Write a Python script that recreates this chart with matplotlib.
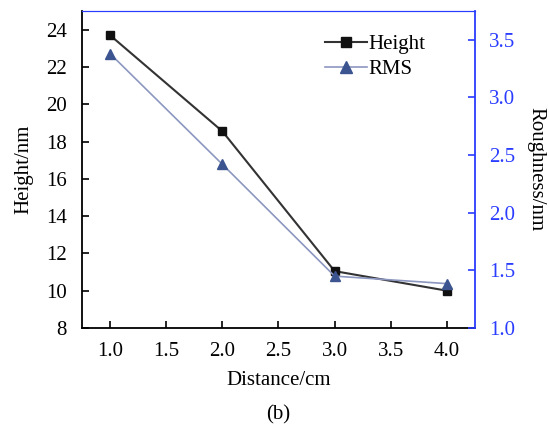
import matplotlib
matplotlib.use("Agg")
import matplotlib.pyplot as plt

distance = [1.0, 2.0, 3.0, 4.0]
height = [23.7, 18.55, 11.05, 10.0]
rms = [3.38, 2.42, 1.45, 1.385]
x_ticks = [1.0, 1.5, 2.0, 2.5, 3.0, 3.5, 4.0]
left_ticks = [8, 10, 12, 14, 16, 18, 20, 22, 24]
right_ticks = [1.0, 1.5, 2.0, 2.5, 3.0, 3.5]

plt.rcParams['font.family'] = ['Liberation Serif', 'DejaVu Serif']
fs = 15

blue = '#2a3cff'
fig = plt.figure(figsize=(5.49, 4.26), dpi=100)
ax = fig.add_axes([82/549, 1-328/426, (475-82)/549, (328-11)/426])
ax2 = ax.twinx()

l1, = ax.plot(distance, height, color='#333333', lw=1.5, marker='s', ms=5.5,
              markerfacecolor='#111111', markeredgecolor='#111111', label='Height')
l2, = ax2.plot(distance, rms, color='#8c97c0', lw=1.2, marker='^', ms=6.5,
               markerfacecolor='#3c5590', markeredgecolor='#3c5590', label='RMS')

ax.set_xlim(0.75, 4.25)
ax.set_ylim(8, 25)
ax2.set_ylim(1.0, 3.75)
ax.set_xticks(x_ticks)
ax.set_xticklabels([f'{v:.1f}' for v in x_ticks])
ax.set_yticks(left_ticks)
ax2.set_yticks(right_ticks)
ax2.set_yticklabels([f'{v:.1f}' for v in right_ticks])

ax.tick_params(direction='in', length=5, width=1.2, labelsize=fs)
ax.tick_params(axis='x', pad=10)
ax.tick_params(axis='y', pad=11)
ax2.tick_params(direction='in', length=5, width=1.2, labelsize=fs, colors=blue, pad=10)

for s in ['left', 'bottom']:
    ax.spines[s].set_linewidth(1.3)
    ax.spines[s].set_color('black')
ax.spines['top'].set_color(blue)
ax.spines['right'].set_visible(False)
ax2.spines['right'].set_color(blue)
ax2.spines['top'].set_color(blue)
ax2.spines['right'].set_linewidth(1.3)
ax2.spines['left'].set_visible(False)
ax2.spines['bottom'].set_visible(False)

ax.set_ylabel('Height/nm', fontsize=fs, labelpad=9)
ax2.set_ylabel('Roughness/nm', fontsize=fs, rotation=270, labelpad=22)
ax.set_xlabel('Distance/cm', fontsize=fs, labelpad=7)
fig.text((82+475)/2/549, 1-415/426, '(b)', ha='center', va='center', fontsize=fs)

ax.legend(handles=[l1, l2], loc='center left',
          bbox_to_anchor=(325/549, 1-57/426), bbox_transform=fig.transFigure,
          frameon=False, fontsize=fs, handlelength=2.0, handletextpad=0.1,
          labelspacing=0.25, borderaxespad=0.0, borderpad=0.0, markerscale=1.3)

fig.savefig('out.png', dpi=100)
